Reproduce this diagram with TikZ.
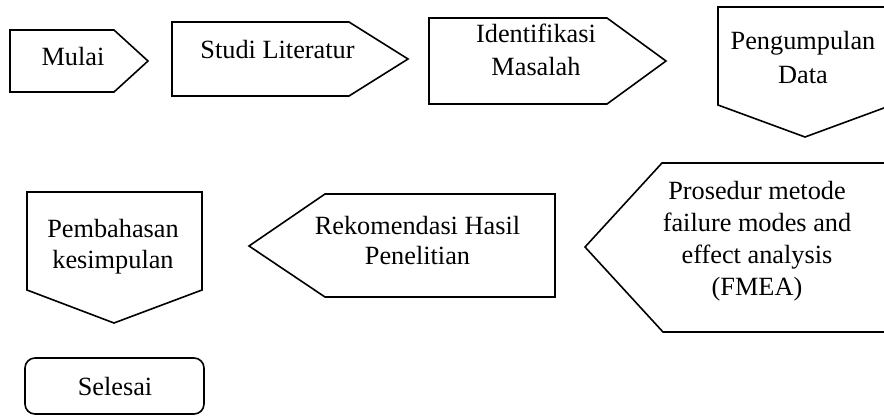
\documentclass[tikz,border=0pt]{standalone}
\usepackage{fontspec}
\setmainfont{Liberation Serif}
\begin{document}
\begin{tikzpicture}[x=1pt,y=-1pt]
			\tikzstyle{every node}+=[inner sep=0pt, align=center, anchor=base, font=\fontsize{26.3}{32}\selectfont]
			\tikzstyle{box}=[black, line width=1.6pt, line join=miter]
			\useasboundingbox (0,0) rectangle (884,416);
			\clip (0,0) rectangle (884,416);
			% baris atas
			\draw [box] (10,30) -- (114,30) -- (148,61) -- (114,92) -- (10,92) -- cycle;
			\node (mulai) at (73,65) {Mulai};
			\draw [box] (172,22) -- (349,22) -- (408,59) -- (349,96) -- (172,96) -- cycle;
			\node (studi) at (277.5,58) {Studi Literatur};
			\draw [box] (429,18) -- (607,18) -- (666,61) -- (607,104) -- (429,104) -- cycle;
			\node[font=\fontsize{26.3}{33}\selectfont] (identifikasi) at (536,75) {Identifikasi\\Masalah};
			\draw [box] (718,7) -- (892,7) -- (892,105) -- (805,137) -- (718,105) -- cycle;
			\node[font=\fontsize{26.3}{34}\selectfont] (pengumpulan) at (803,83) {Pengumpulan\\Data};
			% baris tengah
			\draw [box] (585,247) -- (662,163) -- (900,163) -- (900,332) -- (663,332) -- cycle;
			\node (prosedur) at (757,295) {Prosedur metode\\failure modes and\\effect analysis\\(FMEA)};
			\draw [box] (249,246) -- (325,194) -- (555,194) -- (555,297) -- (325,297) -- cycle;
			\node[font=\fontsize{26.3}{30}\selectfont] (rekomendasi) at (417.5,264) {Rekomendasi Hasil\\Penelitian};
			\draw [box] (27,192) -- (202,192) -- (202,290) -- (114,323) -- (27,290) -- cycle;
			\node[font=\fontsize{26.3}{31}\selectfont] (pembahasan) at (113,268) {Pembahasan\\kesimpulan};
			% selesai
			\draw [box, rounded corners=10pt] (25,358) rectangle (204,414);
			\node (selesai) at (115,395) {Selesai};
		\end{tikzpicture}
\end{document}
